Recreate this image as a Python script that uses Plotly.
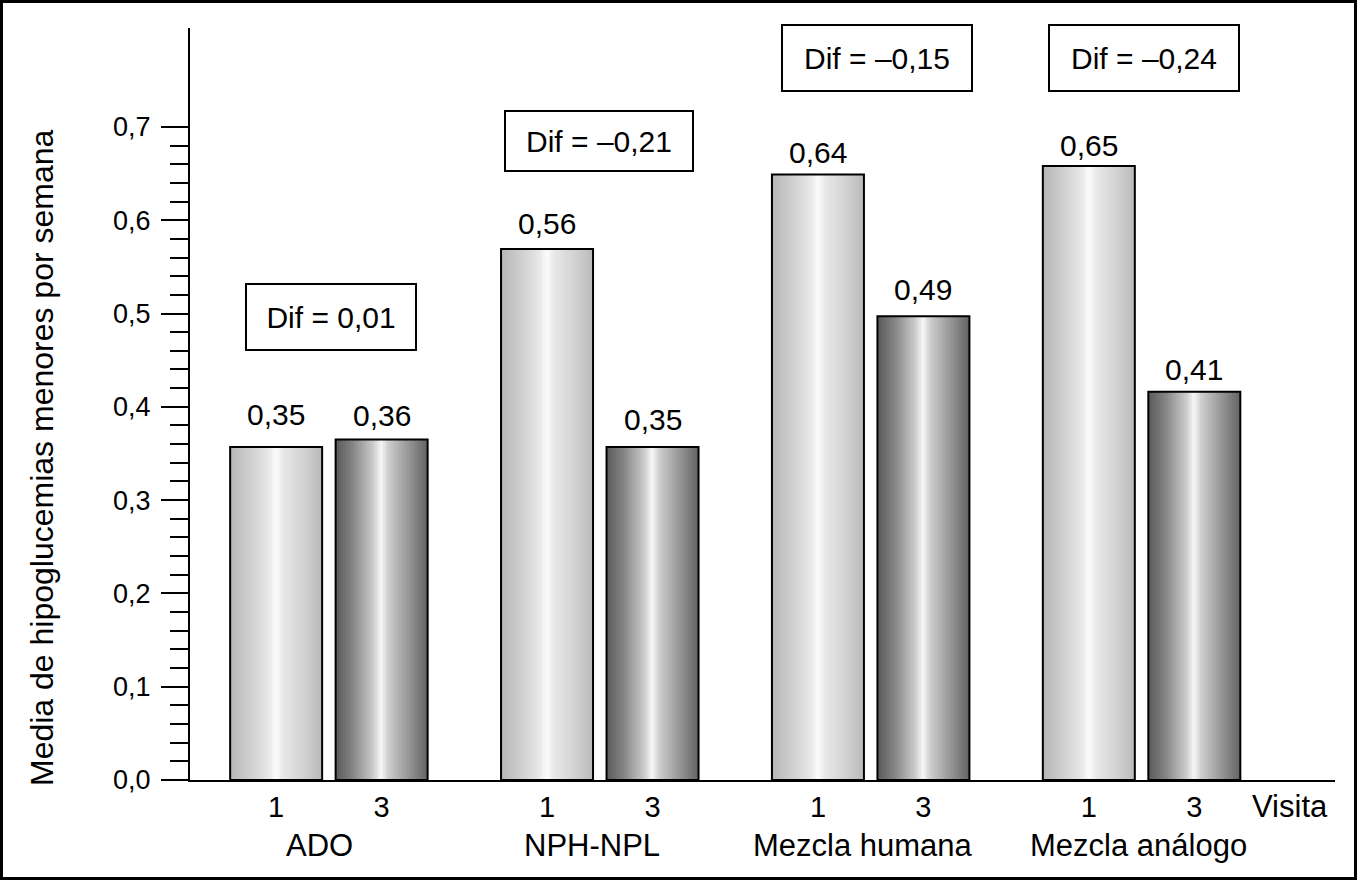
import plotly.graph_objects as go

# ---- data ----
groups = ["ADO", "NPH-NPL", "Mezcla humana", "Mezcla análogo"]
visits = ["1", "3"]
visit1_vals = [0.357, 0.569, 0.649, 0.658]
visit3_vals = [0.365, 0.357, 0.497, 0.416]
visit1_labels = ["0,35", "0,56", "0,64", "0,65"]
visit3_labels = ["0,36", "0,35", "0,49", "0,41"]
dif_labels = ["Dif = 0,01", "Dif = \u20130,21", "Dif = \u20130,15", "Dif = \u20130,24"]
y_ticks = [0.0, 0.1, 0.2, 0.3, 0.4, 0.5, 0.6, 0.7]

# ---- geometry / style ----
W, H = 1359, 882
ML, MR, MT, MB = 190, 24, 28, 102
BAR_W = 0.3396
OFF = 0.1947
XR = [-0.5127, 3.714]
YR = [0, 0.806]
FONT = "Liberation Sans, Arial, sans-serif"
N_STRIPES = 46
LABEL_SHIFT_1 = [32, 26, 22, 21]
LABEL_SHIFT_3 = [24, 27, 27, 22]

# gradient profiles (t, gray level)
prof1 = [(0.0, 182), (0.2, 205), (0.42, 232), (0.5, 252), (0.58, 232), (0.8, 210), (1.0, 185)]
prof3 = [(0.0, 88), (0.2, 135), (0.42, 205), (0.5, 248), (0.58, 205), (0.8, 150), (1.0, 100)]


def gray(profile, t):
    for (t0, g0), (t1, g1) in zip(profile, profile[1:]):
        if t0 <= t <= t1:
            g = g0 + (g1 - g0) * (t - t0) / (t1 - t0)
            g = int(round(g))
            return f"rgb({g},{g},{g})"
    g = profile[-1][1]
    return f"rgb({g},{g},{g})"


fig = go.Figure()
series = [(visit1_vals, -OFF, prof1), (visit3_vals, OFF, prof3)]
for vals, off, prof in series:
    sw = BAR_W / N_STRIPES
    for k in range(N_STRIPES):
        t = (k + 0.5) / N_STRIPES
        xs = [i + off - BAR_W / 2 + sw * (k + 0.5) for i in range(len(groups))]
        fig.add_trace(go.Bar(
            x=xs, y=vals, width=sw * 1.25,
            marker=dict(color=gray(prof, t), line=dict(width=0)),
            hoverinfo="skip", showlegend=False,
        ))
    fig.add_trace(go.Bar(
        x=[i + off for i in range(len(groups))], y=vals, width=BAR_W,
        marker=dict(color="rgba(0,0,0,0)", line=dict(color="black", width=2)),
        hoverinfo="skip", showlegend=False,
    ))

annotations = []
# value labels
for vals, labels, off, shifts in [(visit1_vals, visit1_labels, -OFF, LABEL_SHIFT_1),
                                  (visit3_vals, visit3_labels, OFF, LABEL_SHIFT_3)]:
    for i, (v, lab) in enumerate(zip(vals, labels)):
        annotations.append(dict(x=i + off, y=v, xref="x", yref="y", text=lab,
                                showarrow=False, yshift=shifts[i], xanchor="center",
                                yanchor="middle",
                                font=dict(size=30, color="black", family=FONT)))
# dif boxes
dif_pos_y = [0.496, 0.685, 0.774, 0.774]
dif_xshift = [2, -1, 6, 2]
dif_w = [168, 186, 188, 188]
dif_h = [64, 58, 64, 64]
for i, lab in enumerate(dif_labels):
    annotations.append(dict(x=i, y=dif_pos_y[i], xref="x", yref="y", text=lab,
                            showarrow=False, xshift=dif_xshift[i], xanchor="center",
                            width=dif_w[i], height=dif_h[i], borderpad=0,
                            bordercolor="black", borderwidth=2, bgcolor="white",
                            font=dict(size=30, color="black", family=FONT)))
# group names
grp_shift = [-9, -8, -8, -3]
for i, g in enumerate(groups):
    annotations.append(dict(x=i, y=0, xref="x", yref="paper",
                            text=g, showarrow=False, xshift=grp_shift[i], yshift=-65,
                            xanchor="center", yanchor="middle",
                            font=dict(size=31, color="black", family=FONT)))
# Visita
annotations.append(dict(x=(1290 - ML) / (W - ML - MR), y=0, xref="paper", yref="paper",
                        text="Visita", showarrow=False, yshift=-26,
                        xanchor="center", yanchor="middle",
                        font=dict(size=31, color="black", family=FONT)))
# y title
annotations.append(dict(x=(42 - ML) / (W - ML - MR), y=(780 - 458) / (H - MT - MB),
                        xref="paper", yref="paper", text="Media de hipoglucemias menores por semana",
                        textangle=-90, showarrow=False, xanchor="center", yanchor="middle",
                        font=dict(size=32, color="black", family=FONT)))

pw, ph = W - ML - MR, H - MT - MB
frame = dict(type="rect", xref="paper", yref="paper",
             x0=(1.5 - ML) / pw, x1=(1355.5 - ML) / pw,
             y0=(780 - 878.5) / ph, y1=(780 - 1.5) / ph,
             line=dict(color="black", width=3), fillcolor="rgba(0,0,0,0)", layer="above")

tick_x = [i + o for i in range(len(groups)) for o in (-OFF, OFF)]
tick_t = [v for _ in groups for v in visits]
minor_vals = [round(k * 0.02, 2) for k in range(1, 35) if k % 5 != 0]

fig.update_layout(
    width=W, height=H,
    margin=dict(l=ML, r=MR, t=MT, b=MB),
    paper_bgcolor="white", plot_bgcolor="white",
    barmode="overlay", bargap=0,
    separators=",.",
    font=dict(family=FONT, size=28, color="black"),
    annotations=annotations,
    shapes=[frame],
    xaxis=dict(range=XR, showgrid=False, zeroline=False, showline=True,
               linecolor="black", linewidth=2, ticks="",
               tickmode="array", tickvals=tick_x, ticktext=tick_t,
               ticklabelstandoff=0,
               tickfont=dict(size=29, color="black", family=FONT), fixedrange=True),
    yaxis=dict(range=YR, showgrid=False, zeroline=False, showline=True,
               linecolor="black", linewidth=2, ticks="outside", ticklen=27,
               tickwidth=2, tickcolor="black",
               tickmode="array", tickvals=y_ticks, tickformat=".1f",
               ticklabelstandoff=5,
               minor=dict(tickmode="array", tickvals=minor_vals, ticks="outside",
                          ticklen=18, tickwidth=2, tickcolor="black", showgrid=False),
               tickfont=dict(size=27, color="black", family=FONT), fixedrange=True),
)

fig.write_html("out.html", post_script="document.body.style.margin='0';",
               config={"displayModeBar": False, "staticPlot": True})
